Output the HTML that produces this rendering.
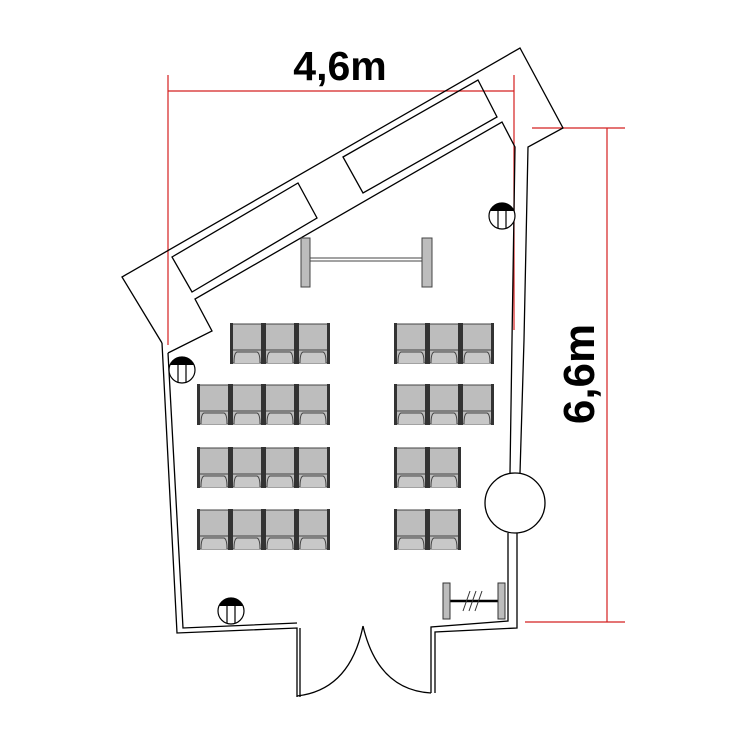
<!DOCTYPE html>
<html><head><meta charset="utf-8"><style>
html,body{margin:0;padding:0;background:#fff}
svg{display:block}
</style></head><body>
<svg width="750" height="750" viewBox="0 0 750 750" xmlns="http://www.w3.org/2000/svg">
<defs>
<symbol id="ch" viewBox="0 0 34 41" width="34" height="41">
<rect x="2" y="1" width="30" height="39" fill="#bdbdbd" stroke="#444" stroke-width="1"/>
<line x1="2" y1="27" x2="32" y2="27" stroke="#444" stroke-width="1"/>
<path d="M4 40 Q4 30 7 29 L27 29 Q30 30 30 40" fill="#c8c8c8" stroke="#444" stroke-width="1"/>
<rect x="0" y="0" width="3" height="41" fill="#333"/>
<rect x="31" y="0" width="3" height="41" fill="#333"/>
</symbol>
<symbol id="lt" viewBox="-14 -14 28 28" width="28" height="28">
<circle r="13" fill="#fff" stroke="#000" stroke-width="1.2"/>
<path d="M-12 -5 A13 13 0 0 1 12 -5 Z" fill="#000"/>
<line x1="-4" y1="-5" x2="-4" y2="12" stroke="#000" stroke-width="1.2"/>
<line x1="4" y1="-5" x2="4" y2="12" stroke="#000" stroke-width="1.2"/>
</symbol>
</defs>

<g stroke="#d42020" stroke-width="1.2" fill="none">
<line x1="168" y1="91" x2="514" y2="91"/>
<line x1="168" y1="75" x2="168" y2="345"/>
<line x1="514" y1="75" x2="514" y2="330"/>
<line x1="607" y1="128" x2="607" y2="622"/>
<line x1="532" y1="128" x2="625" y2="128"/>
<line x1="525" y1="622" x2="625" y2="622"/>
</g>
<text x="340" y="80" font-family="Liberation Sans, sans-serif" font-weight="bold" font-size="41" text-anchor="middle">4,6m</text>
<text transform="translate(594,374) rotate(-90)" font-family="Liberation Sans, sans-serif" font-weight="bold" font-size="44" text-anchor="middle">6,6m</text>

<g stroke="#000" stroke-width="1.3" fill="none">
<polyline points="162,343 122,277 520,48 563,128 528,147 524,340 520,473"/>
<polyline points="168,353 212,331 195,299 502,122 515,147 512,340 510,473"/>
<polyline points="162,343 177,633 297,628 297,697"/>
<polyline points="168,353 183,628 297,623"/>
<line x1="300" y1="628" x2="300" y2="697"/>
<path d="M297,696 Q350,690 363,626"/>
<path d="M431,693 Q378,690 363,626"/>
<polyline points="431,693 431,627 508,621 508,533"/>
<polyline points="435,693 435,632 517,628 517,533"/>
<circle cx="515" cy="503" r="30" fill="#fff"/>
<polygon points="172,257 298,183 317,218 192,292"/>
<polygon points="343,157 478,80 497,117 363,193"/>
</g>

<g stroke="#444" stroke-width="1">
<line x1="306" y1="258" x2="427" y2="258"/>
<line x1="306" y1="261" x2="427" y2="261"/>
<rect x="301" y="238" width="9" height="49" fill="#bdbdbd"/>
<rect x="422" y="238" width="10" height="49" fill="#bdbdbd"/>
</g>

<use href="#lt" x="488" y="202"/>
<use href="#lt" x="168" y="356"/>
<use href="#lt" x="217" y="597"/>

<use href="#ch" x="230" y="323"/><use href="#ch" x="263" y="323"/><use href="#ch" x="296" y="323"/>
<use href="#ch" x="197" y="384"/><use href="#ch" x="230" y="384"/><use href="#ch" x="263" y="384"/><use href="#ch" x="296" y="384"/>
<use href="#ch" x="197" y="447"/><use href="#ch" x="230" y="447"/><use href="#ch" x="263" y="447"/><use href="#ch" x="296" y="447"/>
<use href="#ch" x="197" y="509"/><use href="#ch" x="230" y="509"/><use href="#ch" x="263" y="509"/><use href="#ch" x="296" y="509"/>
<use href="#ch" x="394" y="323"/><use href="#ch" x="427" y="323"/><use href="#ch" x="460" y="323"/>
<use href="#ch" x="394" y="384"/><use href="#ch" x="427" y="384"/><use href="#ch" x="460" y="384"/>
<use href="#ch" x="394" y="447"/><use href="#ch" x="427" y="447"/>
<use href="#ch" x="394" y="509"/><use href="#ch" x="427" y="509"/>

<g stroke="#333" stroke-width="1">
<line x1="447" y1="601" x2="502" y2="601" stroke-width="2.5" stroke="#000"/>
<rect x="443" y="583" width="7" height="36" fill="#bdbdbd"/>
<rect x="498" y="583" width="7" height="36" fill="#bdbdbd"/>
<line x1="463" y1="611" x2="470" y2="591"/>
<line x1="469" y1="611" x2="476" y2="591"/>
<line x1="475" y1="611" x2="482" y2="591"/>
</g>
</svg>
</body></html>
